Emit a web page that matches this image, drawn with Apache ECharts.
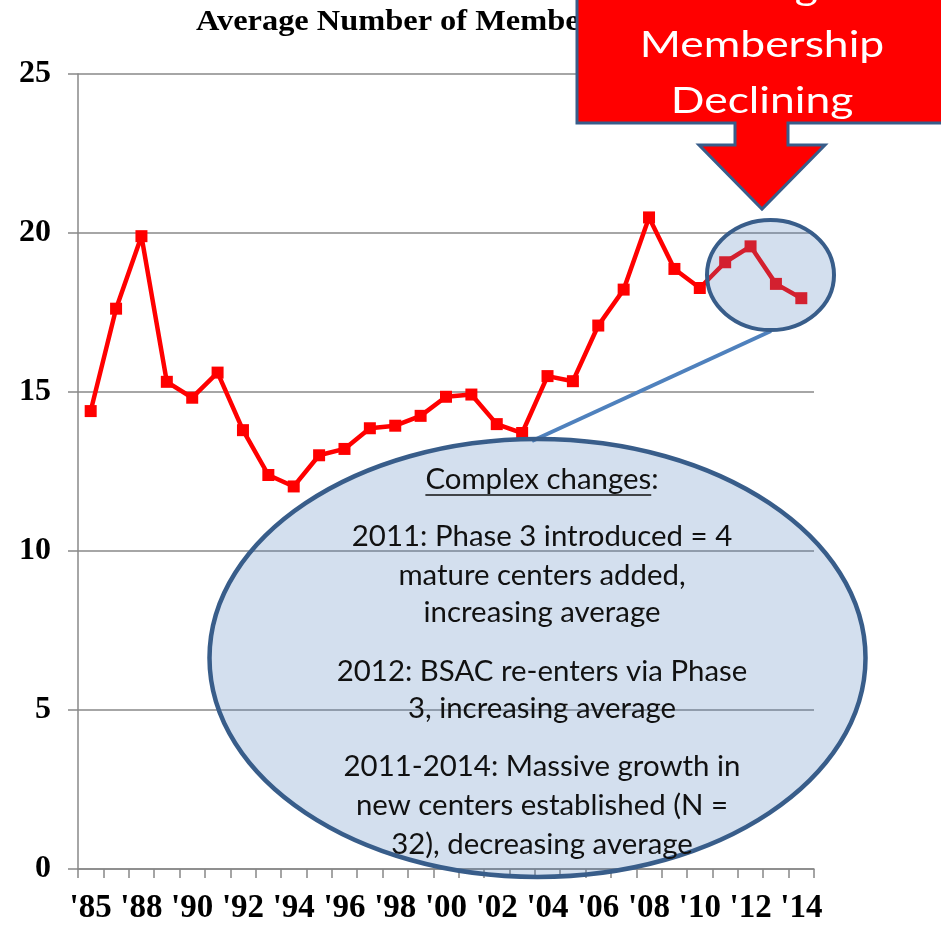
<!DOCTYPE html>
<html>
<head>
<meta charset="utf-8">
<script src="https://cdn.jsdelivr.net/npm/echarts@6/dist/echarts.min.js"></script>
<style>
html,body{margin:0;padding:0;background:#fff;}
#chart{width:941px;height:925px;}
</style>
</head>
<body>
<div id="chart"></div>
<script>
var years = ["'85","'87","'88","'89","'90","'91","'92","'93","'94","'95","'96","'97","'98","'99","'00","'01","'02","'03","'04","'05","'06","'07","'08","'09","'10","'11","'12","'13","'14"];
var avgMembers = [14.40,17.62,19.90,15.32,14.82,15.61,13.80,12.39,12.03,13.01,13.21,13.86,13.94,14.25,14.85,14.92,13.99,13.71,15.50,15.34,17.09,18.22,20.49,18.87,18.27,19.08,19.58,18.40,17.95];
var yTicks = [0,5,10,15,20,25];
var titleText = 'Average Number of Members per Center';
var calloutLines = ['Average','Membership','Declining'];
var noteHeading = 'Complex changes';
var noteLines = ['2011: Phase 3 introduced = 4','mature centers added,','increasing average','2012: BSAC re-enters via Phase','3, increasing average','2011-2014: Massive growth in','new centers established (N =','32), decreasing average'];

var chart = echarts.init(document.getElementById('chart'));
var serif = '"Liberation Serif","Times New Roman",serif';
var sans = 'Lato, "Noto Sans", sans-serif';
var noteFont = '28px ' + sans;
var noteScale = 1.05;
var noteX = 542;
var noteY = [537,576,613,672,709,767,806,845];

var mctx = document.createElement('canvas').getContext('2d');
mctx.font = noteFont;
var headW = mctx.measureText(noteHeading).width * noteScale;
var fullW = mctx.measureText(noteHeading + ':').width * noteScale;
var headLeft = noteX - fullW / 2;

var graphics = [
  {type:'text', x:196, y:22, z:1, scaleX:1.08, style:{text:titleText, font:'bold 30px '+serif, fill:'#000', align:'left', verticalAlign:'middle'}},
  {type:'line', z:90, shape:{x1:771,y1:331,x2:532,y2:441}, style:{stroke:'#4F81BD', lineWidth:4}},
  {type:'ellipse', z:100, shape:{cx:770.5, cy:275, rx:63.5, ry:55}, style:{fill:'rgba(79,129,189,0.25)', stroke:'#385D8A', lineWidth:4}},
  {type:'ellipse', z:100, shape:{cx:537.5, cy:658, rx:328, ry:219}, style:{fill:'rgba(79,129,189,0.25)', stroke:'#385D8A', lineWidth:4.5}},
  {type:'polygon', z:110, shape:{points:[[577,-10],[960,-10],[960,123],[788,123],[788,145],[825,145],[762,209],[699,145],[735,145],[735,123],[577,123]]}, style:{fill:'#FF0000', stroke:'#385D8A', lineWidth:3}},
  {type:'text', x:noteX, y:480, z:120, scaleX:noteScale, style:{text:noteHeading+':', font:noteFont, fill:'#111', align:'center', verticalAlign:'middle'}},
  {type:'line', z:120, shape:{x1:headLeft,y1:495,x2:headLeft+headW,y2:495}, style:{stroke:'#111', lineWidth:1.5}}
];
noteLines.forEach(function(t,i){
  graphics.push({type:'text', x:noteX, y:noteY[i], z:120, scaleX:noteScale, style:{text:t, font:noteFont, fill:'#111', align:'center', verticalAlign:'middle'}});
});
[-12,45,101].forEach(function(y,i){
  graphics.push({type:'text', x:762, y:y, z:120, scaleX:1.2, style:{text:calloutLines[i], font:'37px '+sans, fill:'#fff', align:'center', verticalAlign:'middle'}});
});

chart.setOption({
  animation:false,
  backgroundColor:'#fff',
  grid:{left:78, right:127, top:74, bottom:53, containLabel:false},
  xAxis:{
    type:'category', data:years, boundaryGap:true,
    axisLine:{lineStyle:{color:'#888', width:1.5}},
    axisTick:{show:true, length:9, interval:0, lineStyle:{color:'#888', width:1.5}},
    axisLabel:{interval:1, color:'#000', fontFamily:serif, fontWeight:'bold', fontSize:33, margin:23},
    splitLine:{show:false}
  },
  yAxis:{
    type:'value', min:yTicks[0], max:yTicks[yTicks.length-1], interval:5,
    axisLine:{show:true, lineStyle:{color:'#888', width:1.5}},
    axisTick:{show:true, length:10, lineStyle:{color:'#888', width:1.5}},
    axisLabel:{color:'#000', fontFamily:serif, fontWeight:'bold', fontSize:32, margin:27},
    splitLine:{show:true, lineStyle:{color:'#888', width:1.5}}
  },
  series:[{
    type:'line', data:avgMembers, z:5,
    lineStyle:{color:'#FF0000', width:4.5},
    itemStyle:{color:'#FF0000'},
    symbol:'rect', symbolSize:12, showSymbol:true
  }],
  graphic:graphics
});
</script>
</body>
</html>
